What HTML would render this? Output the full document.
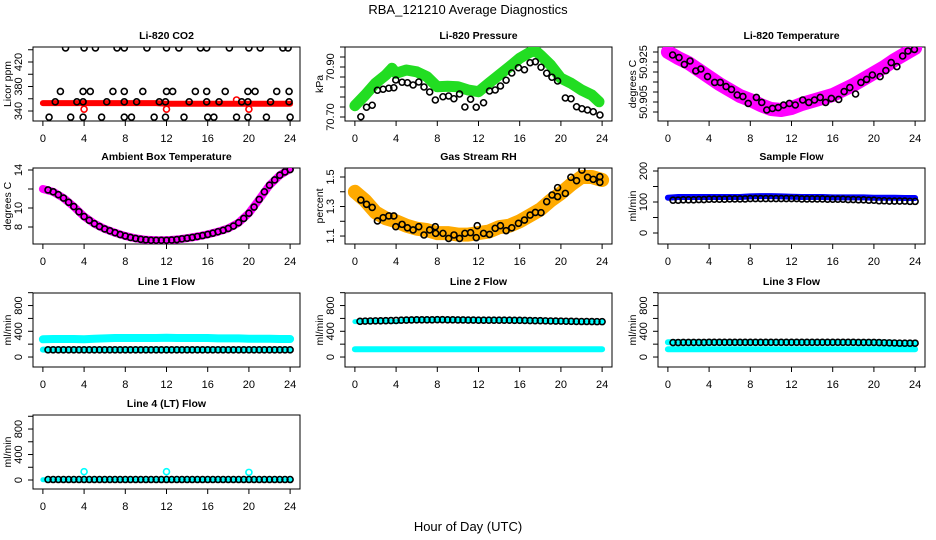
<!DOCTYPE html>
<html><head><meta charset="utf-8"><style>
body{margin:0;background:#fff}
svg{display:block;font-family:"Liberation Sans",sans-serif}
</style></head><body>
<svg id="c" width="936" height="540" viewBox="0 0 936 540">
<text x="468" y="14" text-anchor="middle" font-size="13">RBA_121210  Average Diagnostics</text>
<text x="468" y="531" text-anchor="middle" font-size="13">Hour of Day (UTC)</text>
</svg>
<script>
// ---------- data ----------
const halfHours=[0.5,1,1.5,2,2.5,3,3.5,4,4.5,5,5.5,6,6.5,7,7.5,8,8.5,9,9.5,10,10.5,11,11.5,12,12.5,13,13.5,14,14.5,15,15.5,16,16.5,17,17.5,18,18.5,19,19.5,20,20.5,21,21.5,22,22.5,23,23.5,24];
const hours=[0,1,2,3,4,5,6,7,8,9,10,11,12,13,14,15,16,17,18,19,20,21,22,23,24];

const co2BandVals=[353,353,353,353,353,353,353,353,353,353,353,353,352,352,352,352,352,352,352,352,352,352,352,352,352];
const co2RedHours=[4,12,20,18.8];
const co2RedVals=[343,343,343,358];
const co2Hours=[2.2,4.0,5.1,7.2,7.9,10.1,12.0,13.2,15.3,15.9,18.1,20.0,21.1,23.3,23.8,
 1.7,3.9,4.6,6.8,7.9,9.7,12.0,12.6,14.8,15.9,17.7,19.9,20.6,22.7,23.9,
 1.2,3.3,3.9,6.2,7.9,9.1,11.3,11.9,14.2,15.9,17.1,19.3,19.9,22.1,23.9,
 0.6,2.7,3.9,5.7,7.9,8.6,10.8,11.9,13.7,16.0,16.6,18.8,19.9,21.7,24.0];
const co2Vals=[443,443,443,443,443,443,443,443,443,443,443,443,443,443,443,
 372,372,372,372,372,372,372,372,372,372,372,372,372,372,372,
 355,355,355,355,355,355,355,355,355,355,355,355,355,355,355,
 330,330,330,330,330,330,330,330,330,330,330,330,330,330,330];

const presBandHours=[0,1,2,3,3.6,4,5,6,7,8,9,10,11,12,13,14,15,16,17,17.5,18,19,20,21,22,23,23.7];
const presBandVals=[70.745,70.788,70.835,70.868,70.895,70.875,70.888,70.881,70.861,70.821,70.823,70.821,70.808,70.801,70.835,70.868,70.901,70.935,70.959,70.966,70.948,70.908,70.855,70.835,70.808,70.788,70.761];
const presHours=[0.58,1.13,1.68,2.19,2.74,3.29,3.78,3.97,4.58,5.10,5.65,6.20,6.71,7.26,7.81,8.55,9.10,9.61,10.16,10.68,11.23,11.78,12.49,13.07,13.62,14.13,14.68,15.23,15.88,16.46,17.01,17.52,18.07,18.62,19.13,19.68,20.43,20.98,21.52,22.04,22.58,23.14,23.79];
const presVals=[70.701,70.739,70.747,70.807,70.811,70.815,70.817,70.848,70.839,70.837,70.828,70.840,70.820,70.800,70.768,70.781,70.784,70.773,70.792,70.740,70.771,70.739,70.757,70.804,70.808,70.824,70.847,70.876,70.897,70.889,70.917,70.921,70.899,70.875,70.859,70.844,70.776,70.773,70.741,70.733,70.728,70.721,70.708];

const tempBandVals=[50.9300,50.9270,50.9245,50.9210,50.9175,50.9140,50.9110,50.9080,50.9060,50.9035,50.9015,50.9010,50.9020,50.9040,50.9055,50.9070,50.9085,50.9110,50.9135,50.9165,50.9195,50.9225,50.9260,50.9290,50.9320];
const tempHours=[0.46,1.08,1.60,2.15,2.71,3.20,3.85,4.54,5.09,5.65,6.17,6.73,7.28,7.80,8.59,9.11,9.60,10.15,10.71,11.23,11.79,12.37,13.09,13.68,14.23,14.79,15.31,15.87,16.58,17.11,17.66,18.22,18.74,19.29,19.85,20.60,21.16,21.68,22.23,22.79,23.31,23.93];
const tempVals=[50.9285,50.9272,50.9238,50.9255,50.9205,50.9215,50.9177,50.9148,50.9148,50.9127,50.9113,50.9085,50.9077,50.9043,50.9073,50.9048,50.9010,50.9018,50.9022,50.9035,50.9043,50.9035,50.9060,50.9048,50.9060,50.9073,50.9048,50.9068,50.9063,50.9102,50.9122,50.9090,50.9148,50.9163,50.9185,50.9177,50.9207,50.9247,50.9227,50.9280,50.9305,50.9313];

const ambBandVals=[12.0,11.7,11.05,10.15,9.1,8.35,7.8,7.4,7.05,6.8,6.65,6.6,6.6,6.68,6.82,7.0,7.22,7.5,7.85,8.45,9.45,10.9,12.4,13.45,14.1];
const ambVals=[11.9,11.7,11.4,11.05,10.6,10.15,9.6,9.1,8.7,8.35,8.05,7.8,7.6,7.4,7.2,7.05,6.9,6.8,6.7,6.65,6.6,6.6,6.6,6.6,6.62,6.68,6.75,6.82,6.9,7.0,7.1,7.22,7.35,7.5,7.65,7.85,8.1,8.45,8.9,9.45,10.1,10.9,11.7,12.4,12.95,13.45,13.8,14.05];

const rhBandVals=[1.40,1.34,1.26,1.22,1.20,1.17,1.15,1.14,1.12,1.12,1.11,1.11,1.12,1.13,1.16,1.17,1.20,1.24,1.28,1.34,1.39,1.45,1.50,1.50,1.48];
const rhHours=[0.58,1.13,1.68,2.19,2.74,3.29,3.78,3.97,4.58,5.10,5.65,6.20,6.71,7.26,7.81,7.84,8.55,9.10,9.62,10.16,10.68,11.23,11.78,11.88,12.49,13.07,13.62,14.13,14.68,15.23,15.88,16.46,17.01,17.52,18.07,18.62,19.14,19.68,19.68,20.43,20.97,21.52,22.04,22.59,23.14,23.78,23.78];
const rhVals=[1.344,1.315,1.294,1.202,1.224,1.236,1.236,1.163,1.179,1.156,1.141,1.163,1.107,1.141,1.163,1.118,1.118,1.084,1.107,1.084,1.118,1.123,1.089,1.170,1.118,1.111,1.152,1.170,1.136,1.156,1.186,1.208,1.242,1.260,1.258,1.333,1.378,1.367,1.428,1.389,1.498,1.475,1.547,1.498,1.484,1.502,1.464];

const sampBandVals=[114,116,116,116,116,116,116,116,118,119,119,118,117,116,116,116,115,115,115,115,114,114,114,113,113];
const sampVals=[106,106,107,107,107,108,108,109,109,109,109,110,110,110,110,111,111,111,111,111,111,111,111,111,111,110,110,110,110,110,109,109,109,109,108,108,107,107,106,106,104,104,103,103,103,103,102,102];

const l1BandA=[275,280,280,280,275,285,290,295,295,295,295,295,300,295,295,295,295,290,290,290,285,285,285,280,280];
const l1BandB=[115,115,115,115,115,115,115,115,115,115,115,115,115,115,115,115,115,115,115,115,115,115,115,115,115];
const l1Vals=[112,112,112,112,112,112,112,112,112,112,112,112,112,112,112,112,112,112,112,112,112,112,112,112,112,112,112,112,112,112,112,112,112,112,112,112,112,112,112,112,112,112,112,112,112,112,112,112];

const l2BandA=[550,555,560,560,550,575,580,580,580,580,580,575,570,575,575,575,575,570,570,565,555,550,550,550,550];
const l2BandB=[120,120,120,120,120,120,120,120,120,120,120,120,120,120,120,120,120,120,120,120,120,120,120,120,120];
const l2Vals=[555,558,560,562,563,565,566,568,572,575,576,578,578,578,579,580,580,578,578,576,576,575,574,573,572,572,572,572,572,572,571,570,568,566,565,564,562,560,559,558,556,555,553,552,552,551,550,550];

const l3BandA=[230,230,230,230,230,230,230,230,230,230,230,230,230,230,230,230,230,230,230,230,230,225,220,215,215];
const l3BandB=[120,120,120,120,120,120,120,120,120,120,120,120,120,120,120,120,120,120,120,120,120,120,120,120,120];
const l3Vals=[225,225,226,226,226,227,227,228,228,228,228,228,228,228,228,228,228,228,228,228,228,228,228,228,228,228,228,228,228,228,228,228,228,228,228,228,227,227,226,226,224,222,220,218,216,215,215,215];

const l4BandVals=[5,5,5,5,5,5,5,5,5,5,5,5,5,5,5,5,5,5,5,5,5,5,5,5,5];
const l4OutHours=[4,12,20];
const l4OutVals=[130,130,120];
const l4Vals=[8,8,8,8,8,8,8,8,8,8,8,8,8,8,8,8,8,8,8,8,8,8,8,8,8,8,8,8,8,8,8,8,8,8,8,8,8,8,8,8,8,8,8,8,8,8,8,8];

// ---------- drawing ----------
const NS="http://www.w3.org/2000/svg";
const svg=document.getElementById('c');
function mk(tag,attrs,parent){const e=document.createElementNS(NS,tag);for(const k in attrs)e.setAttribute(k,attrs[k]);(parent||svg).appendChild(e);return e;}

const colL=[33,345,658], rowT=[47,168,293,415], rowB=[121,244,367,489];
function panel(col,row,title,ylab,ylim,ticks,labels,name){
  const l=colL[col], r=l+267, t=rowT[row], b=rowB[row];
  const g=mk('g',{});
  
  
  const xs=h=>l+(h+0.96)/25.92*(r-l);
  const ys=v=>b-(v-ylim[0])/(ylim[1]-ylim[0])*(b-t);
  const tt=mk('text',{x:(l+r)/2,y:t-8,'text-anchor':'middle','font-size':'10.5','font-weight':'bold'},g);
  tt.textContent=title;
  
  
  mk('rect',{x:l,y:t,width:r-l,height:b-t,fill:'none',stroke:'#000','stroke-width':1},g);
  mk('line',{x1:xs(0),x2:xs(24),y1:b,y2:b,stroke:'#000'},g);
  for(let h=0;h<=24;h+=4){
    mk('line',{x1:xs(h),x2:xs(h),y1:b,y2:b+5,stroke:'#000'},g);
    const tx=mk('text',{x:xs(h),y:b+21,'text-anchor':'middle','font-size':'11'},g);
    tx.textContent=h;
    
    
  }
  mk('line',{x1:l,x2:l,y1:ys(ticks[0]),y2:ys(ticks[ticks.length-1]),stroke:'#000'},g);
  ticks.forEach((v,i)=>{
    mk('line',{x1:l-5,x2:l,y1:ys(v),y2:ys(v),stroke:'#000'},g);
    if(labels[i]){
      const y=ys(v);
      const tx=mk('text',{x:0,y:0,'text-anchor':'middle','font-size':'11',transform:`translate(${l-11},${y}) rotate(-90)`},g);
      tx.textContent=labels[i];
      
      
    }
  });
  const yt=mk('text',{x:0,y:0,'text-anchor':'middle','font-size':'10.5',transform:`translate(${l-22},${(t+b)/2}) rotate(-90)`},g);
  yt.textContent=ylab;
  
  
  const clip='clip'+col+row;
  const cp=mk('clipPath',{id:clip},g);mk('rect',{x:l,y:t,width:r-l,height:b-t},cp);
  const pg=mk('g',{'clip-path':`url(#${clip})`},g);
  return {xs,ys,g:pg};
}
function band(p,hs,vs,color,w,name){
  const d=hs.map((h,i)=>(i?'L':'M')+p.xs(h).toFixed(1)+','+p.ys(vs[i]).toFixed(1)).join('');
  const e=mk('path',{d,fill:'none',stroke:color,'stroke-width':w,'stroke-linecap':'round','stroke-linejoin':'round'},p.g);
  
  
}
function pts(p,hs,vs,color,name,sw){
  hs.forEach((h,i)=>{
    const c=mk('circle',{cx:p.xs(h),cy:p.ys(vs[i]),r:3,fill:'none',stroke:color,'stroke-width':sw||1.6},p.g);
    
    
  });
}
function range(a,b,s){const o=[];for(let v=a;v<=b+1e-9;v+=s)o.push(+v.toFixed(4));return o;}

let p=panel(0,0,'Li-820 CO2','Licor ppm',[323.7,444.5],[340,360,380,400,420,440],['340','','380','','420',''],'panel-co2');
band(p,hours,co2BandVals,'#ff0000',6,'co2-red-band');
pts(p,co2RedHours,co2RedVals,'#ff0000','co2-red-point');
pts(p,co2Hours,co2Vals,'#000','co2-point');

p=panel(1,0,'Li-820 Pressure','kPa',[70.684,70.98],range(70.70,70.98,0.04),['70.70','','','','','70.90','',''],'panel-pressure');
band(p,presBandHours,presBandVals,'#22dd22',11,'pressure-green-band');
pts(p,presHours,presVals,'#000','pressure-point');

p=panel(2,0,'Li-820 Temperature','degrees C',[50.8955,50.9325],range(50.900,50.930,0.005),['','50.905','','','','50.925',''],'panel-licor-temp');
band(p,hours,tempBandVals,'#ff00ff',14,'temp-magenta-band');
pts(p,tempHours,tempVals,'#000','temp-point');

p=panel(0,1,'Ambient Box Temperature','degrees C',[6.21,14.21],[8,10,12,14],['8','10','','14'],'panel-ambient');
band(p,hours,ambBandVals,'#ff00ff',8,'ambient-magenta-band');
pts(p,halfHours,ambVals,'#000','ambient-point');

p=panel(1,1,'Gas Stream RH','percent',[1.046,1.561],[1.1,1.2,1.3,1.4,1.5],['1.1','','1.3','','1.5'],'panel-rh');
band(p,hours,rhBandVals,'#ffaa00',14,'rh-orange-band');
pts(p,rhHours,rhVals,'#000','rh-point');

p=panel(2,1,'Sample Flow','ml/min',[-35.5,209.7],[0,50,100,150,200],['0','','100','','200'],'panel-sample-flow');
band(p,hours,sampBandVals,'#0000ff',6,'sample-blue-band');
pts(p,halfHours,sampVals,'#000','sample-point');

const fT=[0,200,400,600,800,1000], fL=['0','','400','','800',''];
p=panel(0,2,'Line 1 Flow','ml/min',[-155,995],fT,fL,'panel-line1');
band(p,hours,l1BandA,'#00ffff',8,'line1-cyan-band-high');
band(p,hours,l1BandB,'#00ffff',6,'line1-cyan-band-low');
pts(p,halfHours,l1Vals,'#000','line1-point');
p=panel(1,2,'Line 2 Flow','ml/min',[-155,995],fT,fL,'panel-line2');
band(p,hours,l2BandA,'#00ffff',5,'line2-cyan-band-high');
band(p,hours,l2BandB,'#00ffff',6,'line2-cyan-band-low');
pts(p,halfHours,l2Vals,'#000','line2-point');
p=panel(2,2,'Line 3 Flow','ml/min',[-155,995],fT,fL,'panel-line3');
band(p,hours,l3BandA,'#00ffff',6,'line3-cyan-band-high');
band(p,hours,l3BandB,'#00ffff',6,'line3-cyan-band-low');
pts(p,halfHours,l3Vals,'#000','line3-point');
p=panel(0,3,'Line 4 (LT) Flow','ml/min',[-141,1020],fT,fL,'panel-line4');
band(p,hours,l4BandVals,'#00ffff',5,'line4-cyan-band');
pts(p,l4OutHours,l4OutVals,'#00ffff','line4-cyan-outlier');
pts(p,halfHours,l4Vals,'#000','line4-point');
</script>
</body></html>
